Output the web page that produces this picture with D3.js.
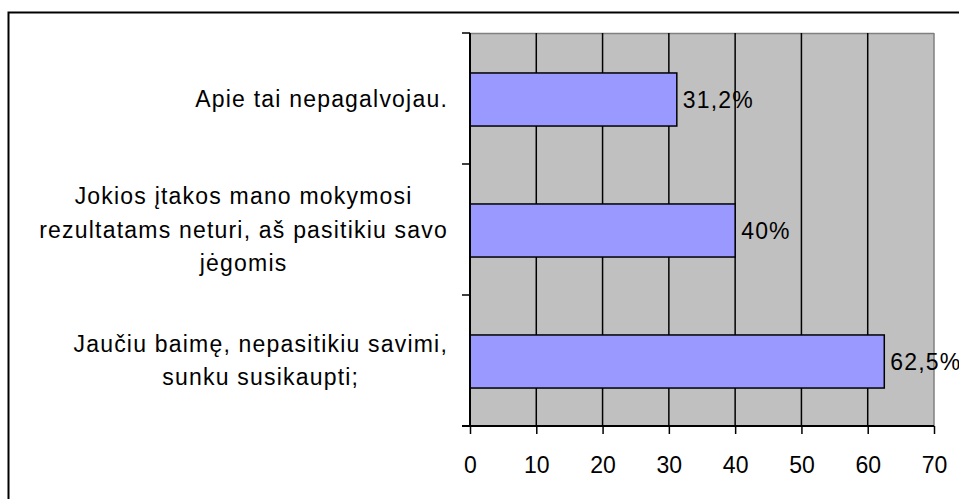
<!DOCTYPE html>
<html>
<head>
<meta charset="utf-8">
<script src="https://cdn.jsdelivr.net/npm/d3@7"></script>
<style>
  html, body { margin: 0; padding: 0; background: #fff; }
  svg { display: block; font-family: Arial, "Liberation Sans", sans-serif; }
</style>
</head>
<body>
<svg id="chart" width="959" height="499"></svg>
<script>
// categories top to bottom, wrapped as in the original
const categories = ['a', 'b', 'c'];
const labelLines = [
  ['Apie tai nepagalvojau.'],
  ['Jokios įtakos mano mokymosi', 'rezultatams neturi, aš pasitikiu savo', 'jėgomis'],
  ['Jaučiu baimę, nepasitikiu savimi,', 'sunku susikaupti;']
];
const values = [31.2, 40, 62.5];
const valueLabels = ['31,2%', '40%', '62,5%'];
const xTicks = [0, 10, 20, 30, 40, 50, 60, 70];

const svg = d3.select('#chart');
const m = { l: 470, r: 934, t: 33, b: 426 };
const FS = 23;
const LS = 1.2; // wider GDI-ish spacing of the source

// outer frame (runs off the right/bottom edge like the source crop)
svg.append('rect')
  .attr('x', 8.5).attr('y', 12.5).attr('width', 1100).attr('height', 1100)
  .attr('fill', 'none').attr('stroke', '#000').attr('stroke-width', 2);

const x = d3.scaleLinear().domain([0, 70]).range([m.l, m.r]);
const y = d3.scaleBand().domain(categories).range([m.t, m.b]).padding(0);

// plot area
svg.append('rect')
  .attr('x', m.l).attr('y', m.t).attr('width', m.r - m.l).attr('height', m.b - m.t)
  .attr('fill', '#c0c0c0');
svg.append('line').attr('x1', m.l).attr('x2', m.r).attr('y1', m.t + 0.5).attr('y2', m.t + 0.5)
  .attr('stroke', '#808080').attr('stroke-width', 1.5);
svg.append('line').attr('x1', m.r).attr('x2', m.r).attr('y1', m.t).attr('y2', m.b)
  .attr('stroke', '#808080').attr('stroke-width', 1.5);

// vertical gridlines
svg.append('g').selectAll('line')
  .data(xTicks.filter(d => d > 0 && d < 70))
  .join('line')
    .attr('x1', d => x(d)).attr('x2', d => x(d))
    .attr('y1', m.t).attr('y2', m.b)
    .attr('stroke', '#000').attr('stroke-width', 1.5);

// bars
const barH = y.bandwidth() * 0.405;
svg.append('g').selectAll('rect')
  .data(values)
  .join('rect')
    .attr('x', x(0))
    .attr('y', (d, i) => y(categories[i]) + y.bandwidth() / 2 - barH / 2 + 1)
    .attr('width', d => x(d) - x(0))
    .attr('height', barH)
    .attr('fill', '#9999ff')
    .attr('stroke', '#000').attr('stroke-width', 1.5);

// value labels
svg.append('g').selectAll('text')
  .data(values)
  .join('text')
    .attr('x', d => x(d) + 6)
    .attr('y', (d, i) => y(categories[i]) + y.bandwidth() / 2 + 1)
    .attr('dy', '0.35em')
    .attr('font-size', FS)
    .attr('letter-spacing', LS)
    .attr('fill', '#000')
    .text((d, i) => valueLabels[i]);

// x axis
const xAxis = svg.append('g')
  .attr('transform', `translate(0,${m.b})`)
  .call(d3.axisBottom(x).tickValues(xTicks).tickSize(8).tickSizeOuter(0).tickPadding(23));
xAxis.select('.domain').attr('stroke', '#000').attr('stroke-width', 2)
  .attr('d', `M${m.l - 8},0H${m.r}`);
xAxis.selectAll('.tick line').attr('stroke-width', 1.5);
xAxis.selectAll('text').attr('font-size', FS).attr('font-family', null).attr('fill', '#000');

// y axis: ticks on category boundaries
const bounds = categories.map(c => y(c)).concat([m.b]);
svg.append('line').attr('x1', m.l).attr('x2', m.l).attr('y1', m.t).attr('y2', m.b)
  .attr('stroke', '#000').attr('stroke-width', 2);
svg.append('g').selectAll('line')
  .data(bounds)
  .join('line')
    .attr('x1', m.l - 8).attr('x2', m.l)
    .attr('y1', d => d).attr('y2', d => d)
    .attr('stroke', '#000').attr('stroke-width', 1.5);

// category labels: block right-aligned, lines centred inside the block
const lineH = 33.5;
const labelRight = 448;
labelLines.forEach((lines, i) => {
  const g = svg.append('g');
  const texts = g.selectAll('text').data(lines).join('text')
    .attr('font-size', FS).attr('fill', '#000')
    .attr('letter-spacing', LS)
    .attr('text-anchor', 'middle')
    .attr('dy', '0.35em')
    .text(d => d);
  const w = d3.max(texts.nodes(), n => n.getComputedTextLength());
  const cy = y(categories[i]) + y.bandwidth() / 2;
  texts
    .attr('x', labelRight - w / 2)
    .attr('y', (d, j) => cy + (j - (lines.length - 1) / 2) * lineH);
});
</script>
</body>
</html>
